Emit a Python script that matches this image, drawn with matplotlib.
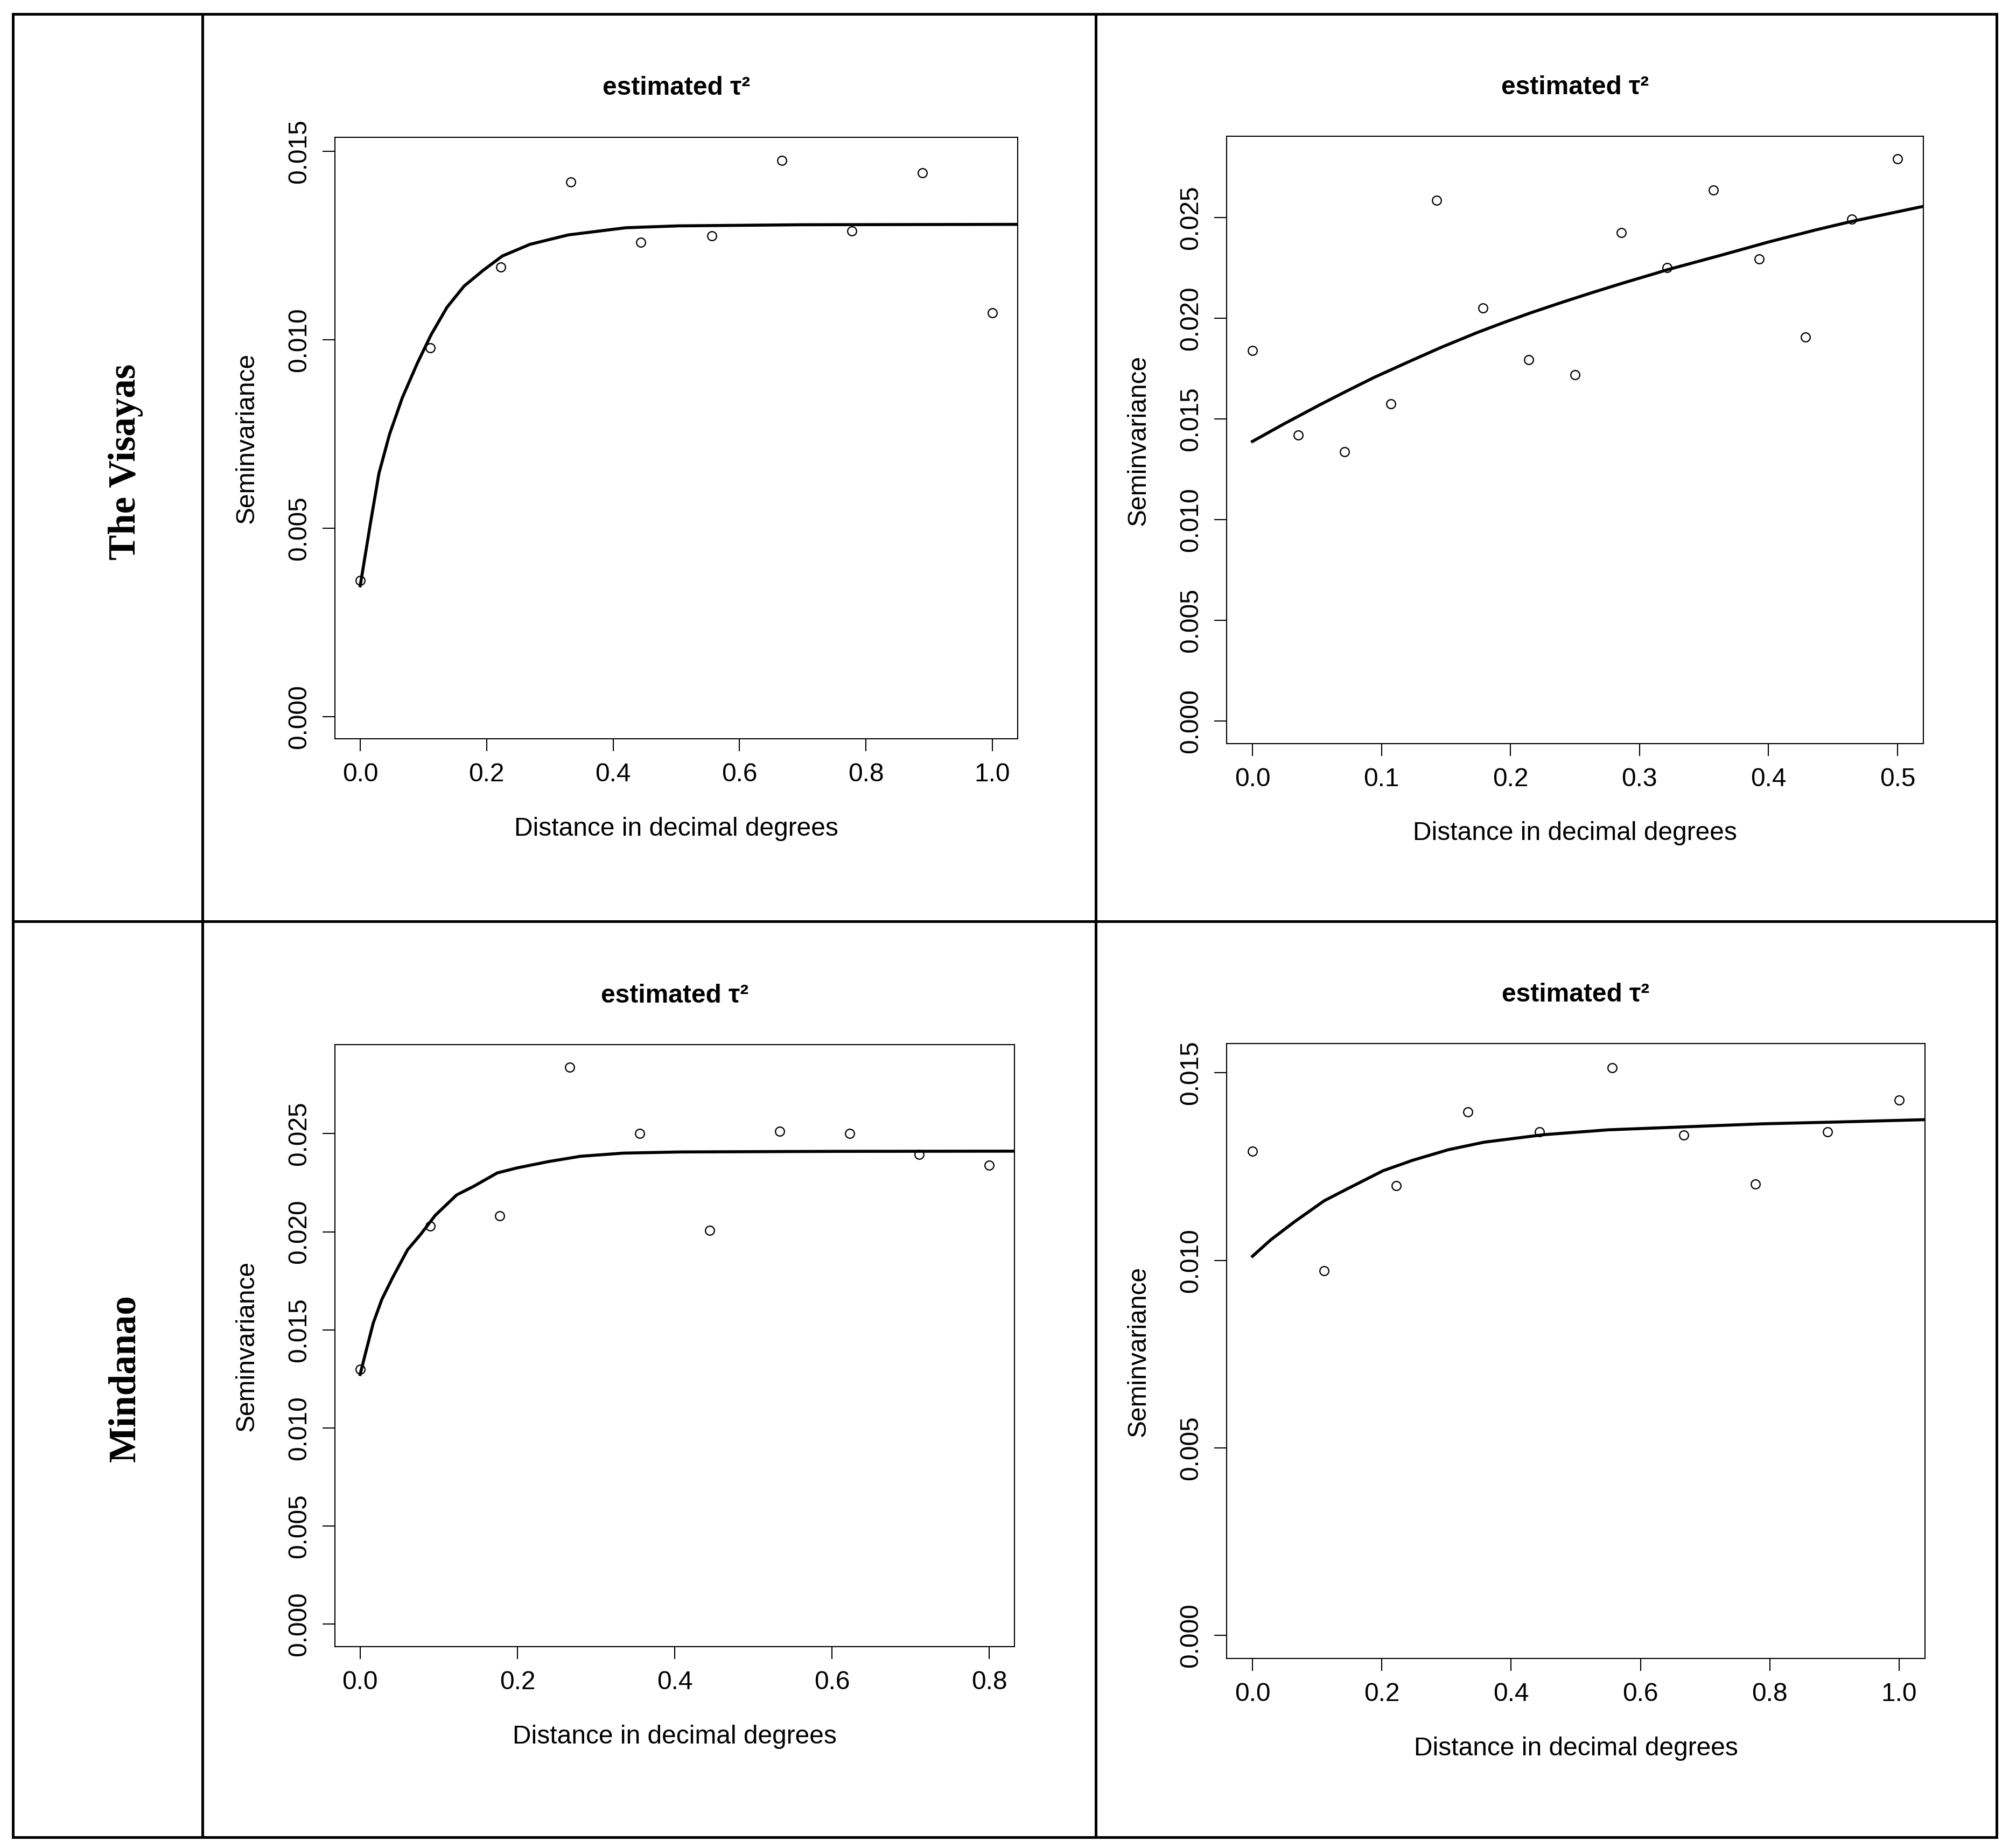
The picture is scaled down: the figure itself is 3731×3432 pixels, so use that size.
# semivariograms for the two regions, redrawn from the figure

import numpy as np
import matplotlib.pyplot as plt
from matplotlib.lines import Line2D
from matplotlib.ticker import FormatStrFormatter

plt.rcParams['font.family'] = ['Liberation Sans', 'DejaVu Sans']

# ---------------- data ----------------
region_names = ['The Visayas', 'Mindanao']
panel_title = 'estimated \u03c4\u00b2'
x_label = 'Distance in decimal degrees'
y_label = 'Seminvariance'

# The Visayas, left
vis_a_dist = [0.000, 0.111, 0.222, 0.333, 0.444, 0.556, 0.667, 0.778, 0.889, 1.000]
vis_a_gamma = [0.00361, 0.00978, 0.01193, 0.01418, 0.01259, 0.01275, 0.01476, 0.01289, 0.01443, 0.01071]
vis_a_fit_x = [0, 0.0094, 0.0162, 0.0296, 0.0464, 0.0666, 0.0902, 0.1121, 0.1373, 0.1642,
               0.1945, 0.2248, 0.2685, 0.3291, 0.42, 0.5034, 0.70, 1.04]
vis_a_fit_y = [0.00347, 0.00443, 0.00513, 0.00645, 0.00749, 0.00846, 0.00937, 0.01013, 0.01086, 0.01142,
               0.01184, 0.01222, 0.01253, 0.01278, 0.01297, 0.01302, 0.01305, 0.01306]

# The Visayas, right
vis_b_dist = [0.0, 0.0357, 0.0714, 0.1071, 0.1429, 0.1786, 0.2143, 0.25, 0.2857, 0.3214,
              0.3571, 0.3929, 0.4286, 0.4643, 0.5]
vis_b_gamma = [0.01839, 0.01419, 0.01337, 0.01575, 0.02585, 0.02051, 0.01795, 0.01719, 0.02424, 0.02250,
               0.02635, 0.02294, 0.01907, 0.02491, 0.02791]
vis_b_fit_x = [0, 0.0253, 0.0529, 0.0737, 0.0944, 0.122, 0.1463, 0.174, 0.1947, 0.2155,
               0.2397, 0.2639, 0.2881, 0.3123, 0.3214, 0.363, 0.40, 0.4366, 0.4643, 0.52]
vis_b_fit_y = [0.01388, 0.01478, 0.01572, 0.01640, 0.01706, 0.01786, 0.01855, 0.01928, 0.01978, 0.02026,
               0.02078, 0.02128, 0.02176, 0.02222, 0.02240, 0.02312, 0.02378, 0.02438, 0.02480, 0.02555]

# Mindanao, left
min_a_dist = [0.0, 0.0889, 0.1778, 0.2667, 0.3556, 0.4444, 0.5333, 0.6222, 0.7111, 0.8]
min_a_gamma = [0.01300, 0.02029, 0.02081, 0.02840, 0.02500, 0.02007, 0.02512, 0.02500, 0.02393, 0.02338]
min_a_fit_x = [0, 0.0087, 0.0168, 0.0277, 0.0413, 0.0603, 0.0766, 0.0956, 0.1228, 0.1445,
               0.1744, 0.1989, 0.2396, 0.2804, 0.3347, 0.4075, 0.6, 0.832]
min_a_fit_y = [0.01273, 0.01410, 0.01536, 0.01656, 0.01766, 0.01908, 0.01985, 0.02084, 0.02188, 0.02232,
               0.02300, 0.02325, 0.02358, 0.02385, 0.02401, 0.02407, 0.02410, 0.02411]

# Mindanao, right
min_b_dist = [0.000, 0.111, 0.222, 0.333, 0.444, 0.556, 0.667, 0.778, 0.889, 1.000]
min_b_gamma = [0.01291, 0.00972, 0.01199, 0.01396, 0.01342, 0.01514, 0.01334, 0.01203, 0.01342, 0.01427]
min_b_fit_x = [0, 0.0284, 0.065, 0.111, 0.147, 0.202, 0.248, 0.303, 0.358, 0.45,
               0.55, 0.669, 0.788, 0.9075, 1.038]
min_b_fit_y = [0.01011, 0.01055, 0.01103, 0.01159, 0.01191, 0.01239, 0.01267, 0.01295, 0.01315, 0.01335,
               0.01348, 0.01356, 0.01364, 0.01369, 0.01375]

vis_a_xticks = [0.0, 0.2, 0.4, 0.6, 0.8, 1.0]
vis_a_yticks = [0.000, 0.005, 0.010, 0.015]
vis_b_xticks = [0.0, 0.1, 0.2, 0.3, 0.4, 0.5]
vis_b_yticks = [0.000, 0.005, 0.010, 0.015, 0.020, 0.025]
min_a_xticks = [0.0, 0.2, 0.4, 0.6, 0.8]
min_a_yticks = [0.000, 0.005, 0.010, 0.015, 0.020, 0.025]
min_b_xticks = [0.0, 0.2, 0.4, 0.6, 0.8, 1.0]
min_b_yticks = [0.000, 0.005, 0.010, 0.015]

# ---------------- layout (pixels of the 3731x3432 picture) ----------------
W, H = 3731, 3432
DPI = 300

def fx(px):
    return px / W

def fy(py):
    return 1 - py / H

fig = plt.figure(figsize=(W / DPI, H / DPI), dpi=DPI)
fig.patch.set_facecolor('white')

# table lines
border_lw = 1.2
for xs, ys in [([24, 3708], [26, 26]), ([24, 3708], [3412, 3412]), ([24, 3708], [1711, 1711]),
               ([24, 24], [26, 3412]), ([376, 376], [26, 3412]), ([2035, 2035], [26, 3412]),
               ([3708, 3708], [26, 3412])]:
    fig.add_artist(Line2D([fx(v) for v in xs], [fy(v) for v in ys], color='black',
                          lw=border_lw, transform=fig.transFigure, solid_capstyle='projecting'))

fig.text(fx(233), fy(858), region_names[0], rotation=90, ha='center', va='center',
         family=['Liberation Serif', 'DejaVu Serif'], fontweight='bold', fontsize=17)
fig.text(fx(233), fy(2560), region_names[1], rotation=90, ha='center', va='center',
         family=['Liberation Serif', 'DejaVu Serif'], fontweight='bold', fontsize=17)

panels = [
    # (left, right, top, bottom) px, data, xlim, ylim, ticks
    ((622, 1890, 255, 1372), vis_a_dist, vis_a_gamma, vis_a_fit_x, vis_a_fit_y,
     (-0.04, 1.04), (-0.00059, 0.01537), vis_a_xticks, vis_a_yticks),
    ((2278, 3572, 253, 1381), vis_b_dist, vis_b_gamma, vis_b_fit_x, vis_b_fit_y,
     (-0.02, 0.52), (-0.00112, 0.02903), vis_b_xticks, vis_b_yticks),
    ((622, 1884, 1940, 3058), min_a_dist, min_a_gamma, min_a_fit_x, min_a_fit_y,
     (-0.032, 0.832), (-0.00114, 0.02954), min_a_xticks, min_a_yticks),
    ((2278, 3575, 1938, 3080), min_b_dist, min_b_gamma, min_b_fit_x, min_b_fit_y,
     (-0.04, 1.04), (-0.00061, 0.01578), min_b_xticks, min_b_yticks),
]

fs = 11.5
for (l, r, t, b), dist, gamma, fit_x, fit_y, xlim, ylim, xt, yt in panels:
    ax = fig.add_axes([fx(l), fy(b), (r - l) / W, (b - t) / H])
    ax.plot(fit_x, fit_y, color='black', lw=1.35, clip_on=True, solid_joinstyle='round')
    ax.plot(dist, gamma, 'o', mfc='none', mec='black', ms=4.0, mew=0.55)
    ax.set_xlim(*xlim)
    ax.set_ylim(*ylim)
    ax.set_xticks(xt)
    ax.set_yticks(yt)
    ax.xaxis.set_major_formatter(FormatStrFormatter('%.1f'))
    ax.yaxis.set_major_formatter(FormatStrFormatter('%.3f'))
    for sp in ax.spines.values():
        sp.set_linewidth(0.5)
    ax.tick_params(length=5.5, width=0.5, labelsize=fs, pad=5)
    ax.tick_params(axis='y', labelrotation=90)
    for lbl in ax.get_yticklabels():
        lbl.set_va('center')
    h = b - t
    w = r - l
    ax.set_xlabel(x_label, fontsize=fs, va='center')
    ax.xaxis.set_label_coords(0.5, -167 / h)
    ax.set_ylabel(y_label, fontsize=fs, va='center')
    ax.yaxis.set_label_coords(-164 / w, 0.5)
    ax.text(0.5, 1 + 91 / h, panel_title, transform=ax.transAxes, ha='center', va='center',
            fontsize=fs, fontweight='bold')

fig.savefig('out.png', dpi=DPI, facecolor='white')
